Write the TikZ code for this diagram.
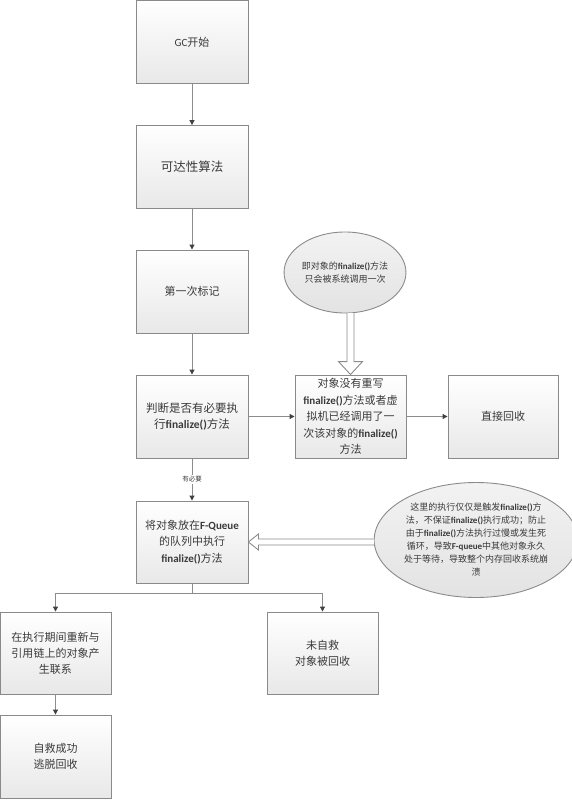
\documentclass[tikz,border=0pt]{standalone}
\usepackage{fontspec}
\setmainfont{Noto Sans CJK SC}
\newfontfamily\lat{Carlito}
\usetikzlibrary{arrows.meta,calc,shapes.geometric}
\newcommand{\fin}{{\lat\bfseries finalize()}}
\definecolor{boxline}{HTML}{8A8A8A}
\definecolor{conncol}{HTML}{8C8C8C}
\definecolor{tipcol}{HTML}{404040}
\definecolor{txt}{HTML}{3A3A3A}
\tikzset{
  box/.style={draw=boxline, line width=0.9pt, top color=white, bottom color=black!9,
    minimum width=112pt, minimum height=83pt, align=center, inner sep=2pt, text=txt},
  bubble/.style={ellipse, draw=boxline, line width=0.9pt, top color=black!5, bottom color=black!11,
    align=center, inner sep=0pt, text=txt},
  conn/.style={draw=conncol, line width=1pt, -{Triangle[width=5pt,length=5pt,color=tipcol]}},
  hollow/.style={draw=boxline, line width=0.9pt, fill=white, line join=miter}
}
\begin{document}
\begin{tikzpicture}[x=1pt,y=-1pt]
\useasboundingbox (0,0) rectangle (572,800);
% nodes
\node[box, font=\fontsize{11}{15}\selectfont] (gc) at (192,42) {{\lat GC}开始};
\node[box, font=\fontsize{12.5}{16}\selectfont] (reach) at (192,167) {可达性算法};
\node[box, font=\fontsize{11}{15}\selectfont] (mark) at (192,291.5) {第一次标记};
\node[box, font=\fontsize{11.5}{16}\selectfont] (judge) at (192,416.5) {判断是否有必要执\\行\fin 方法};
\node[box, font=\fontsize{11}{16.5}\selectfont, minimum width=111pt] (mid) at (350.5,416.5)
  {对象没有重写\\\fin 方法或者虚\\拟机已经调用了一\\次该对象的\fin\\方法};
\node[box, font=\fontsize{11}{15}\selectfont, minimum width=110pt] (direct) at (503,416.5) {直接回收};
\node[box, font=\fontsize{11}{16.5}\selectfont, minimum height=82pt] (fq) at (192,542)
  {将对象放在{\lat\bfseries F-Queue}\\的队列中执行\\\fin 方法};
\node[box, font=\fontsize{11}{16}\selectfont, minimum width=111pt, minimum height=82pt] (left1) at (55.5,653)
  {在执行期间重新与\\引用链上的对象产\\生联系};
\node[box, font=\fontsize{11}{16}\selectfont, minimum width=111pt, minimum height=82pt] (right1) at (322.5,653)
  {未自救\\对象被回收};
\node[box, font=\fontsize{11}{16}\selectfont, minimum width=111pt] (left2) at (55.5,756.5)
  {自救成功\\逃脱回收};
\node[bubble, minimum width=116pt, minimum height=81pt, font=\fontsize{9}{13}\selectfont] (e1) at (345,272.5)
  {即对象的\fin 方法\\只会被系统调用一次};
\node[bubble, minimum width=190pt, minimum height=115pt, font=\fontsize{9}{13}\selectfont] (e2) at (476,540)
  {这里的执行仅仅是触发\fin 方\\法，不保证\fin 执行成功；防止\\由于\fin 方法执行过慢或发生死\\循环，导致{\lat\bfseries F-queue}中其他对象永久\\处于等待，导致整个内存回收系统崩\\溃};
% connectors
\draw[conn] (gc) -- (reach);
\draw[conn] (reach) -- (mark);
\draw[conn] (mark) -- (judge);
\draw[conn] (judge) -- (mid);
\draw[conn] (mid) -- (direct);
\draw[conn] (judge) -- node[midway, fill=white, text=txt, inner sep=1.5pt, font=\fontsize{6.5}{7}\selectfont] (lbl) {有必要} (fq);
\draw[conn] (fq.south) -- ++(0,10) coordinate (sp) -| (left1.north);
\draw[conn] (sp) -| (right1.north);
\draw[conn] (left1) -- (left2);
% hollow arrow from e1 to mid
\coordinate (s1) at (e1.south -| mid.north);
\coordinate (t1) at (mid.north);
\draw[hollow] ($(s1)+(-3.5,-0.5)$) -- ($(t1)+(-3.5,-13)$) -- ($(t1)+(-12,-13)$) -- (t1)
  -- ($(t1)+(12,-13)$) -- ($(t1)+(3.5,-13)$) -- ($(s1)+(3.5,-0.5)$);
% hollow arrow from e2 to fq
\coordinate (t2) at (fq.east);
\coordinate (s2) at (e2.west |- fq.east);
\draw[hollow] ($(s2)+(0.5,-3)$) -- ($(t2)+(10,-3)$) -- ($(t2)+(10,-8)$) -- (t2)
  -- ($(t2)+(10,8)$) -- ($(t2)+(10,3)$) -- ($(s2)+(0.5,3)$);
\end{tikzpicture}
\end{document}
